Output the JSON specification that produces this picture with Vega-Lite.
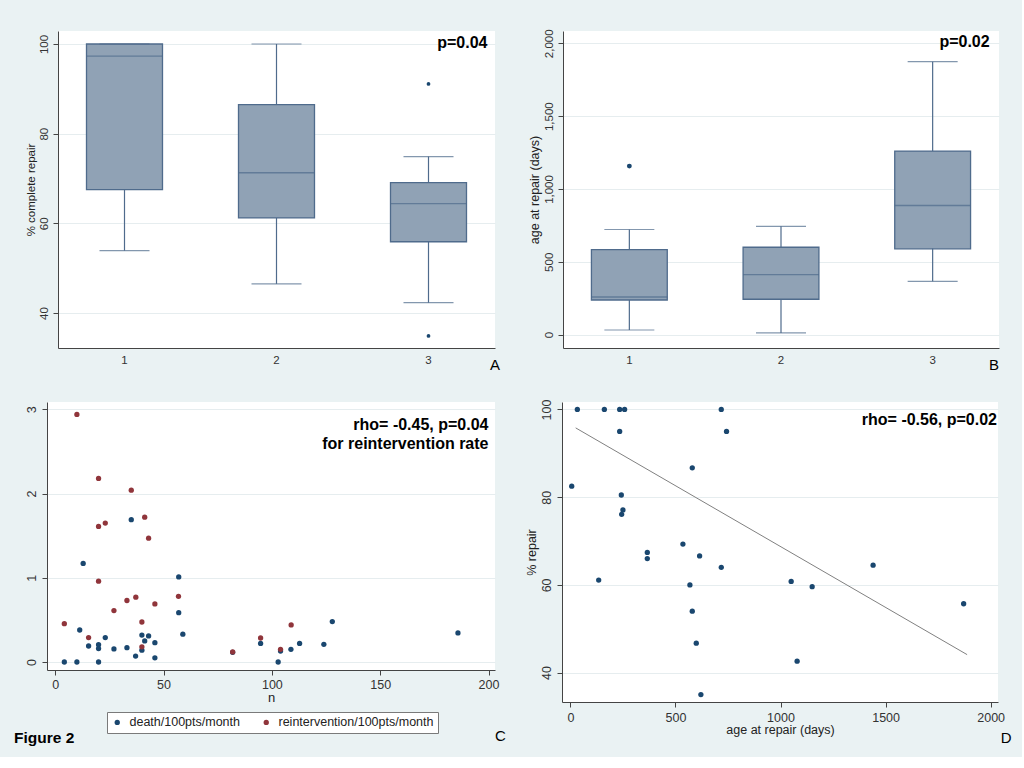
{
 "$schema": "https://vega.github.io/schema/vega-lite/v6.json",
 "background": "#EAF2F3",
 "padding": {"left": 14, "top": 28, "right": 10, "bottom": 10},
 "config": {
  "font": "Liberation Sans",
  "view": {"stroke": null, "fill": "white"},
  "axis": {"domainColor": "#444", "tickColor": "#444", "labelColor": "#333", "titleColor": "#222", "titleFontWeight": "normal", "gridColor": "#E6EDEF", "tickSize": 5, "labelFont": "Liberation Sans", "titleFont": "Liberation Sans"},
  "axisY": {"labelAngle": -90, "labelAlign": "center", "labelBaseline": "bottom", "labelPadding": 4, "titlePadding": 2},
  "title": {"font": "Liberation Sans", "color": "black"}
 },
 "title": {"text": "Figure 2", "orient": "bottom", "anchor": "start", "fontSize": 15.5, "fontWeight": "bold", "dx": -11, "offset": -15},
 "spacing": 26,
 "resolve": {"legend": {"color": "independent"}},
 "vconcat": [
  {
   "spacing": -23,
   "hconcat": [
    {
     "width": 1, "height": 1,
     "view": {"fill": null, "stroke": null},
     "data": {"values": []},
     "mark": "point",
     "encoding": {}
    },
    {
     "spacing": 28,
     "hconcat": [
      {
       "width": 437, "height": 317,
       "title": {"text": "A", "orient": "bottom", "anchor": "end", "fontSize": 15, "fontWeight": "normal", "offset": -8, "dx": 5},
       "data": {"values": [
        {"g": "1", "lo": 53.9, "q1": 67.5, "med": 97.3, "q3": 100, "hi": 100},
        {"g": "2", "lo": 46.5, "q1": 61.2, "med": 71.3, "q3": 86.5, "hi": 100},
        {"g": "3", "lo": 42.3, "q1": 55.9, "med": 64.4, "q3": 69.1, "hi": 74.9}
       ]},
       "encoding": {"x": {"field": "g", "type": "nominal", "scale": {"type": "band", "paddingInner": 0.5, "paddingOuter": 0.1875}, "axis": {"title": null, "labelAngle": 0, "ticks": false, "tickSize": 0, "labelPadding": 6, "labelFontSize": 11.5, "grid": false}}},
       "layer": [
        {"mark": {"type": "rule", "color": "#4F6B8C", "strokeWidth": 1.2},
         "encoding": {"y": {"field": "lo", "type": "quantitative", "scale": {"domain": [32.2, 102.9], "nice": false, "zero": false}, "axis": {"title": "% complete repair", "values": [40, 60, 80, 100], "grid": true, "labelFontSize": 11.5, "titleFontSize": 11.5}}, "y2": {"field": "hi"}}},
        {"mark": {"type": "bar", "fill": "#90A2B5", "stroke": "#4F6B8C", "strokeWidth": 1.3},
         "encoding": {"y": {"field": "q1", "type": "quantitative", "scale": {"domain": [32.2, 102.9], "nice": false, "zero": false}, "title": "% complete repair"}, "y2": {"field": "q3"}}},
        {"mark": {"type": "tick", "color": "#4F6B8C", "size": 76, "thickness": 1.4},
         "encoding": {"y": {"field": "med", "type": "quantitative", "scale": {"domain": [32.2, 102.9], "nice": false, "zero": false}, "title": "% complete repair"}}},
        {"mark": {"type": "tick", "color": "#4F6B8C", "size": 50, "thickness": 1.2},
         "encoding": {"y": {"field": "lo", "type": "quantitative", "scale": {"domain": [32.2, 102.9], "nice": false, "zero": false}, "title": "% complete repair"}}},
        {"mark": {"type": "tick", "color": "#4F6B8C", "size": 50, "thickness": 1.2},
         "encoding": {"y": {"field": "hi", "type": "quantitative", "scale": {"domain": [32.2, 102.9], "nice": false, "zero": false}, "title": "% complete repair"}}},
        {"data": {"values": [{"g": "3", "v": 91.1}, {"g": "3", "v": 34.9}]},
         "mark": {"type": "point", "filled": true, "size": 14, "color": "#1A476F", "opacity": 1},
         "encoding": {"y": {"field": "v", "type": "quantitative", "scale": {"domain": [32.2, 102.9], "nice": false, "zero": false}, "title": "% complete repair"}}},
        {"data": {"values": [{"label": "p=0.04"}]},
         "mark": {"type": "text", "align": "right", "baseline": "middle", "fontSize": 16, "fontWeight": "bold", "dx": 59, "dy": -1, "color": "black"},
         "encoding": {"x": {"datum": "3"}, "y": {"datum": 100, "scale": {"domain": [32.2, 102.9], "nice": false, "zero": false}, "title": "% complete repair"}, "text": {"field": "label"}}}
       ]
      },
      {
       "width": 436, "height": 317,
       "title": {"text": "B", "orient": "bottom", "anchor": "end", "fontSize": 15, "fontWeight": "normal", "offset": -8, "dx": 0},
       "data": {"values": [
        {"g": "1", "lo": 32, "q1": 238, "med": 259, "q3": 584, "hi": 722},
        {"g": "2", "lo": 12, "q1": 243, "med": 412, "q3": 600, "hi": 744},
        {"g": "3", "lo": 366, "q1": 589, "med": 887, "q3": 1260, "hi": 1874}
       ]},
       "encoding": {"x": {"field": "g", "type": "nominal", "scale": {"type": "band", "paddingInner": 0.5, "paddingOuter": 0.1875}, "axis": {"title": null, "labelAngle": 0, "ticks": false, "tickSize": 0, "labelPadding": 6, "labelFontSize": 11.5, "grid": false}}},
       "layer": [
        {"mark": {"type": "rule", "color": "#4F6B8C", "strokeWidth": 1.2},
         "encoding": {"y": {"field": "lo", "type": "quantitative", "scale": {"domain": [-91.6, 2084.5], "nice": false, "zero": false}, "axis": {"title": "age at repair (days)", "values": [0, 500, 1000, 1500, 2000], "format": ",d", "grid": true, "labelFontSize": 11.5, "titleFontSize": 12.5}}, "y2": {"field": "hi"}}},
        {"mark": {"type": "bar", "fill": "#90A2B5", "stroke": "#4F6B8C", "strokeWidth": 1.3},
         "encoding": {"y": {"field": "q1", "type": "quantitative", "scale": {"domain": [-91.6, 2084.5], "nice": false, "zero": false}, "title": "age at repair (days)"}, "y2": {"field": "q3"}}},
        {"mark": {"type": "tick", "color": "#4F6B8C", "size": 76, "thickness": 1.4},
         "encoding": {"y": {"field": "med", "type": "quantitative", "scale": {"domain": [-91.6, 2084.5], "nice": false, "zero": false}, "title": "age at repair (days)"}}},
        {"mark": {"type": "tick", "color": "#4F6B8C", "size": 50, "thickness": 1.2},
         "encoding": {"y": {"field": "lo", "type": "quantitative", "scale": {"domain": [-91.6, 2084.5], "nice": false, "zero": false}, "title": "age at repair (days)"}}},
        {"mark": {"type": "tick", "color": "#4F6B8C", "size": 50, "thickness": 1.2},
         "encoding": {"y": {"field": "hi", "type": "quantitative", "scale": {"domain": [-91.6, 2084.5], "nice": false, "zero": false}, "title": "age at repair (days)"}}},
        {"data": {"values": [{"g": "1", "v": 1157}]},
         "mark": {"type": "point", "filled": true, "size": 24, "color": "#1A476F", "opacity": 1},
         "encoding": {"y": {"field": "v", "type": "quantitative", "scale": {"domain": [-91.6, 2084.5], "nice": false, "zero": false}, "title": "age at repair (days)"}}},
        {"data": {"values": [{"label": "p=0.02"}]},
         "mark": {"type": "text", "align": "right", "baseline": "middle", "fontSize": 16, "fontWeight": "bold", "dx": 57, "dy": -1, "color": "black"},
         "encoding": {"x": {"datum": "3"}, "y": {"datum": 2000, "scale": {"domain": [-91.6, 2084.5], "nice": false, "zero": false}, "title": "age at repair (days)"}, "text": {"field": "label"}}}
       ]
      }
     ]
    }
   ]
  },
  {
   "spacing": 19,
   "resolve": {"legend": {"color": "independent"}},
   "hconcat": [
    {
     "width": 448, "height": 268,
     "title": {"text": "C", "orient": "bottom", "anchor": "end", "fontSize": 15, "fontWeight": "normal", "offset": -5, "dx": 7},
     "layer": [
      {"data": {"values": [
        {"n": 4.2, "rate": 0, "series": "death/100pts/month"},
        {"n": 10, "rate": 0, "series": "death/100pts/month"},
        {"n": 20, "rate": 0, "series": "death/100pts/month"},
        {"n": 11.3, "rate": 0.38, "series": "death/100pts/month"},
        {"n": 12.9, "rate": 1.17, "series": "death/100pts/month"},
        {"n": 15.4, "rate": 0.19, "series": "death/100pts/month"},
        {"n": 20, "rate": 0.205, "series": "death/100pts/month"},
        {"n": 20, "rate": 0.16, "series": "death/100pts/month"},
        {"n": 23.1, "rate": 0.29, "series": "death/100pts/month"},
        {"n": 27.1, "rate": 0.155, "series": "death/100pts/month"},
        {"n": 33.1, "rate": 0.17, "series": "death/100pts/month"},
        {"n": 35.1, "rate": 1.69, "series": "death/100pts/month"},
        {"n": 37.1, "rate": 0.07, "series": "death/100pts/month"},
        {"n": 40, "rate": 0.32, "series": "death/100pts/month"},
        {"n": 40, "rate": 0.14, "series": "death/100pts/month"},
        {"n": 41.3, "rate": 0.25, "series": "death/100pts/month"},
        {"n": 43.1, "rate": 0.31, "series": "death/100pts/month"},
        {"n": 46, "rate": 0.23, "series": "death/100pts/month"},
        {"n": 46, "rate": 0.05, "series": "death/100pts/month"},
        {"n": 57, "rate": 1.01, "series": "death/100pts/month"},
        {"n": 57, "rate": 0.585, "series": "death/100pts/month"},
        {"n": 58.9, "rate": 0.33, "series": "death/100pts/month"},
        {"n": 81.9, "rate": 0.115, "series": "death/100pts/month"},
        {"n": 94.8, "rate": 0.22, "series": "death/100pts/month"},
        {"n": 102.9, "rate": 0, "series": "death/100pts/month"},
        {"n": 104, "rate": 0.13, "series": "death/100pts/month"},
        {"n": 108.8, "rate": 0.15, "series": "death/100pts/month"},
        {"n": 112.8, "rate": 0.22, "series": "death/100pts/month"},
        {"n": 124, "rate": 0.21, "series": "death/100pts/month"},
        {"n": 127.9, "rate": 0.48, "series": "death/100pts/month"},
        {"n": 185.9, "rate": 0.345, "series": "death/100pts/month"},
        {"n": 4.2, "rate": 0.455, "series": "reintervention/100pts/month"},
        {"n": 10, "rate": 2.94, "series": "reintervention/100pts/month"},
        {"n": 15.4, "rate": 0.29, "series": "reintervention/100pts/month"},
        {"n": 20, "rate": 2.18, "series": "reintervention/100pts/month"},
        {"n": 20, "rate": 1.61, "series": "reintervention/100pts/month"},
        {"n": 20, "rate": 0.96, "series": "reintervention/100pts/month"},
        {"n": 23.1, "rate": 1.65, "series": "reintervention/100pts/month"},
        {"n": 27.1, "rate": 0.61, "series": "reintervention/100pts/month"},
        {"n": 33.1, "rate": 0.73, "series": "reintervention/100pts/month"},
        {"n": 35.1, "rate": 2.04, "series": "reintervention/100pts/month"},
        {"n": 37.2, "rate": 0.77, "series": "reintervention/100pts/month"},
        {"n": 40, "rate": 0.475, "series": "reintervention/100pts/month"},
        {"n": 40, "rate": 0.18, "series": "reintervention/100pts/month"},
        {"n": 41.3, "rate": 1.72, "series": "reintervention/100pts/month"},
        {"n": 43.1, "rate": 1.47, "series": "reintervention/100pts/month"},
        {"n": 46, "rate": 0.69, "series": "reintervention/100pts/month"},
        {"n": 56.9, "rate": 0.78, "series": "reintervention/100pts/month"},
        {"n": 81.9, "rate": 0.12, "series": "reintervention/100pts/month"},
        {"n": 94.8, "rate": 0.285, "series": "reintervention/100pts/month"},
        {"n": 104, "rate": 0.15, "series": "reintervention/100pts/month"},
        {"n": 108.9, "rate": 0.44, "series": "reintervention/100pts/month"}
       ]},
       "mark": {"type": "point", "filled": true, "size": 28, "opacity": 1},
       "encoding": {
        "x": {"field": "n", "type": "quantitative", "scale": {"domain": [-3.8, 203], "nice": false, "zero": false}, "axis": {"title": "n", "values": [0, 50, 100, 150, 200], "labelFontSize": 12.5, "titleFontSize": 13, "labelPadding": 3, "titlePadding": 1, "grid": false}},
        "y": {"field": "rate", "type": "quantitative", "scale": {"domain": [-0.095, 3.087], "nice": false, "zero": false}, "axis": {"title": null, "values": [0, 1, 2, 3], "format": "d", "labelFontSize": 12.5, "grid": true}},
        "color": {"field": "series", "type": "nominal", "scale": {"domain": ["death/100pts/month", "reintervention/100pts/month"], "range": ["#1A476F", "#90353B"]},
         "legend": {"title": null, "orient": "none", "legendX": 60, "legendY": 310, "direction": "horizontal", "strokeColor": "#7a7a7a", "fillColor": "white", "padding": 4, "symbolType": "circle", "symbolSize": 28, "labelFontSize": 12.5, "labelColor": "#222", "columnPadding": 20, "labelOffset": 6}}
       }},
      {"data": {"values": [{"t": 1}]},
       "mark": {"type": "text", "align": "right", "baseline": "alphabetic", "fontSize": 16, "fontWeight": "bold", "lineHeight": 19, "color": "black"},
       "encoding": {"x": {"datum": 200, "scale": {"domain": [-3.8, 203], "nice": false, "zero": false}, "title": "n"}, "y": {"datum": 2.755, "scale": {"domain": [-0.095, 3.087], "nice": false, "zero": false}, "title": null}, "text": {"value": ["rho= -0.45, p=0.04", "for reintervention rate"]}}}
     ]
    },
    {
     "width": 436, "height": 300,
     "title": {"text": "D", "orient": "bottom", "anchor": "end", "fontSize": 15, "fontWeight": "normal", "offset": -5, "dx": 7},
     "layer": [
      {"data": {"values": [{"age": 25, "pct": 95.8}, {"age": 1888, "pct": 44.1}]},
       "mark": {"type": "line", "color": "#808080", "strokeWidth": 1},
       "encoding": {
        "x": {"field": "age", "type": "quantitative", "scale": {"domain": [-40, 2035], "nice": false, "zero": false}, "axis": {"title": "age at repair (days)", "values": [0, 500, 1000, 1500, 2000], "format": "d", "labelFontSize": 12.5, "titleFontSize": 12.5, "labelPadding": 4, "titlePadding": 0, "grid": false}},
        "y": {"field": "pct", "type": "quantitative", "scale": {"domain": [33.3, 101.7], "nice": false, "zero": false}, "axis": {"title": "% repair", "values": [40, 60, 80, 100], "labelFontSize": 12.5, "titleFontSize": 12.5, "grid": true}}
       }},
      {"data": {"values": [
        {"age": 33, "pct": 100}, {"age": 161.6, "pct": 100}, {"age": 234.5, "pct": 100}, {"age": 258, "pct": 100},
        {"age": 718, "pct": 100}, {"age": 234.5, "pct": 95}, {"age": 743, "pct": 95}, {"age": 580, "pct": 86.7},
        {"age": 6.2, "pct": 82.5}, {"age": 242.3, "pct": 80.5}, {"age": 250, "pct": 77.1}, {"age": 243.9, "pct": 76.1},
        {"age": 366, "pct": 67.4}, {"age": 366, "pct": 66}, {"age": 535.5, "pct": 69.3}, {"age": 614.9, "pct": 66.6},
        {"age": 718, "pct": 64}, {"age": 134.6, "pct": 61.1}, {"age": 568.8, "pct": 60}, {"age": 580, "pct": 54},
        {"age": 599, "pct": 46.7}, {"age": 621, "pct": 35}, {"age": 1050.7, "pct": 60.8}, {"age": 1150.6, "pct": 59.6},
        {"age": 1440.6, "pct": 64.5}, {"age": 1871.5, "pct": 55.7}, {"age": 1079, "pct": 42.6}
       ]},
       "mark": {"type": "point", "filled": true, "size": 28, "color": "#1A476F", "opacity": 1},
       "encoding": {
        "x": {"field": "age", "type": "quantitative", "scale": {"domain": [-40, 2035], "nice": false, "zero": false}, "title": "age at repair (days)"},
        "y": {"field": "pct", "type": "quantitative", "scale": {"domain": [33.3, 101.7], "nice": false, "zero": false}, "title": "% repair"}
       }},
      {"data": {"values": [{"label": "rho= -0.56, p=0.02"}]},
       "mark": {"type": "text", "align": "right", "baseline": "middle", "fontSize": 16, "fontWeight": "bold", "dx": -1, "color": "black"},
       "encoding": {
        "x": {"datum": 2035, "scale": {"domain": [-40, 2035], "nice": false, "zero": false}, "title": "age at repair (days)"},
        "y": {"datum": 97.6, "scale": {"domain": [33.3, 101.7], "nice": false, "zero": false}, "title": "% repair"},
        "text": {"field": "label"}
       }}
     ]
    }
   ]
  }
 ]
}
